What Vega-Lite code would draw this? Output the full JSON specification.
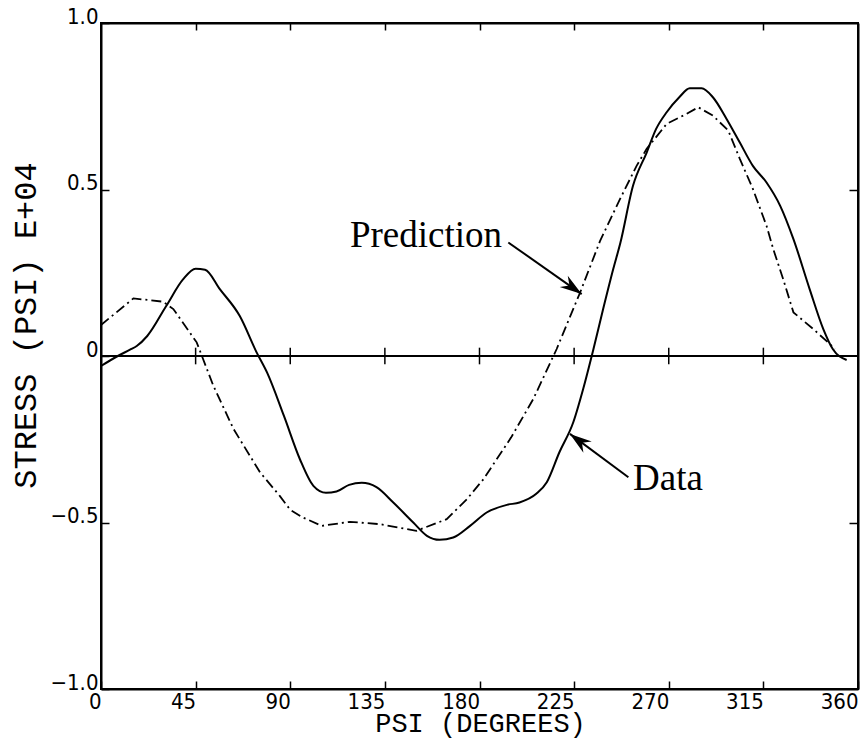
{
  "$schema": "https://vega.github.io/schema/vega-lite/v6.json",
  "width": 757,
  "height": 666,
  "autosize": {"type": "none"},
  "padding": {"left": 101, "top": 23, "right": 7, "bottom": 49},
  "background": "white",
  "config": {
    "view": {"stroke": "black", "strokeWidth": 2},
    "axis": {
      "domainColor": "black", "domainWidth": 2, "tickColor": "black", "tickWidth": 1.5,
      "labelColor": "black", "titleColor": "black", "grid": false,
      "labelFont": "Liberation Sans Narrow, DejaVu Sans Condensed, Liberation Sans",
      "titleFont": "Liberation Mono", "titleFontWeight": "normal"
    }
  },
  "datasets": {
    "curves": [
      {"series": "Data", "psi": 0, "stress": -0.03},
      {"series": "Data", "psi": 8, "stress": 0.0},
      {"series": "Data", "psi": 13.8, "stress": 0.019},
      {"series": "Data", "psi": 17, "stress": 0.03},
      {"series": "Data", "psi": 22, "stress": 0.06},
      {"series": "Data", "psi": 31, "stress": 0.15},
      {"series": "Data", "psi": 39, "stress": 0.23},
      {"series": "Data", "psi": 45, "stress": 0.262},
      {"series": "Data", "psi": 49.5, "stress": 0.259},
      {"series": "Data", "psi": 56.6, "stress": 0.2},
      {"series": "Data", "psi": 66, "stress": 0.12},
      {"series": "Data", "psi": 74, "stress": 0.011},
      {"series": "Data", "psi": 79, "stress": -0.05},
      {"series": "Data", "psi": 87, "stress": -0.18},
      {"series": "Data", "psi": 94.6, "stress": -0.31},
      {"series": "Data", "psi": 101, "stress": -0.39},
      {"series": "Data", "psi": 107, "stress": -0.411},
      {"series": "Data", "psi": 112, "stress": -0.407},
      {"series": "Data", "psi": 118, "stress": -0.387},
      {"series": "Data", "psi": 124, "stress": -0.381},
      {"series": "Data", "psi": 131, "stress": -0.394},
      {"series": "Data", "psi": 139, "stress": -0.44},
      {"series": "Data", "psi": 148.5, "stress": -0.5},
      {"series": "Data", "psi": 155, "stress": -0.54},
      {"series": "Data", "psi": 161, "stress": -0.552},
      {"series": "Data", "psi": 167.5, "stress": -0.545},
      {"series": "Data", "psi": 175.5, "stress": -0.51},
      {"series": "Data", "psi": 183.4, "stress": -0.47},
      {"series": "Data", "psi": 193, "stress": -0.447},
      {"series": "Data", "psi": 199, "stress": -0.44},
      {"series": "Data", "psi": 207, "stress": -0.414},
      {"series": "Data", "psi": 212, "stress": -0.379},
      {"series": "Data", "psi": 218, "stress": -0.289},
      {"series": "Data", "psi": 224.6, "stress": -0.199},
      {"series": "Data", "psi": 229.3, "stress": -0.099},
      {"series": "Data", "psi": 234, "stress": 0.016},
      {"series": "Data", "psi": 238.8, "stress": 0.141},
      {"series": "Data", "psi": 243.6, "stress": 0.261},
      {"series": "Data", "psi": 247, "stress": 0.34},
      {"series": "Data", "psi": 253, "stress": 0.511},
      {"series": "Data", "psi": 259.5, "stress": 0.611},
      {"series": "Data", "psi": 264, "stress": 0.682},
      {"series": "Data", "psi": 269, "stress": 0.732},
      {"series": "Data", "psi": 275, "stress": 0.777},
      {"series": "Data", "psi": 280, "stress": 0.804},
      {"series": "Data", "psi": 285.6, "stress": 0.804},
      {"series": "Data", "psi": 291, "stress": 0.777},
      {"series": "Data", "psi": 297.5, "stress": 0.712},
      {"series": "Data", "psi": 303.8, "stress": 0.641},
      {"series": "Data", "psi": 310, "stress": 0.571},
      {"series": "Data", "psi": 316.5, "stress": 0.521},
      {"series": "Data", "psi": 323, "stress": 0.451},
      {"series": "Data", "psi": 329.3, "stress": 0.351},
      {"series": "Data", "psi": 337, "stress": 0.201},
      {"series": "Data", "psi": 343.5, "stress": 0.081},
      {"series": "Data", "psi": 348, "stress": 0.021},
      {"series": "Data", "psi": 354.6, "stress": -0.012},
      {"series": "Prediction", "psi": 0, "stress": 0.093},
      {"series": "Prediction", "psi": 15.4, "stress": 0.173},
      {"series": "Prediction", "psi": 29.6, "stress": 0.163},
      {"series": "Prediction", "psi": 34.4, "stress": 0.141},
      {"series": "Prediction", "psi": 45.5, "stress": 0.041},
      {"series": "Prediction", "psi": 53.4, "stress": -0.089},
      {"series": "Prediction", "psi": 63, "stress": -0.219},
      {"series": "Prediction", "psi": 75.6, "stress": -0.349},
      {"series": "Prediction", "psi": 85, "stress": -0.42},
      {"series": "Prediction", "psi": 90, "stress": -0.462},
      {"series": "Prediction", "psi": 96, "stress": -0.485},
      {"series": "Prediction", "psi": 105, "stress": -0.51},
      {"series": "Prediction", "psi": 118.4, "stress": -0.498},
      {"series": "Prediction", "psi": 132.7, "stress": -0.505},
      {"series": "Prediction", "psi": 150, "stress": -0.525},
      {"series": "Prediction", "psi": 164.4, "stress": -0.49},
      {"series": "Prediction", "psi": 174, "stress": -0.43},
      {"series": "Prediction", "psi": 182, "stress": -0.369},
      {"series": "Prediction", "psi": 195, "stress": -0.245},
      {"series": "Prediction", "psi": 205.6, "stress": -0.129},
      {"series": "Prediction", "psi": 216.7, "stress": 0.021},
      {"series": "Prediction", "psi": 227.8, "stress": 0.19},
      {"series": "Prediction", "psi": 237.3, "stress": 0.345},
      {"series": "Prediction", "psi": 246.8, "stress": 0.471},
      {"series": "Prediction", "psi": 254.7, "stress": 0.571},
      {"series": "Prediction", "psi": 259.5, "stress": 0.622},
      {"series": "Prediction", "psi": 269, "stress": 0.697},
      {"series": "Prediction", "psi": 278.5, "stress": 0.727},
      {"series": "Prediction", "psi": 284, "stress": 0.747},
      {"series": "Prediction", "psi": 291, "stress": 0.722},
      {"series": "Prediction", "psi": 298.3, "stress": 0.677},
      {"series": "Prediction", "psi": 303.8, "stress": 0.592},
      {"series": "Prediction", "psi": 310, "stress": 0.502},
      {"series": "Prediction", "psi": 316.5, "stress": 0.391},
      {"series": "Prediction", "psi": 319.7, "stress": 0.321},
      {"series": "Prediction", "psi": 324.4, "stress": 0.231},
      {"series": "Prediction", "psi": 329.3, "stress": 0.131},
      {"series": "Prediction", "psi": 338.7, "stress": 0.081},
      {"series": "Prediction", "psi": 346.6, "stress": 0.036},
      {"series": "Prediction", "psi": 349, "stress": 0.021}
    ],
    "zeroline": [{"stress": 0}],
    "zeroticks": [{"psi": 45}, {"psi": 90}, {"psi": 135}, {"psi": 180}, {"psi": 225}, {"psi": 270}, {"psi": 315}],
    "arrows": [
      {"label": "Prediction", "x0": 193.7, "y0": 0.341, "x1": 228.6, "y1": 0.186, "angle": 35.2},
      {"label": "Data", "x0": 250.8, "y0": -0.364, "x1": 223.0, "y1": -0.234, "angle": 216.6}
    ],
    "labels": [
      {"text": "Prediction", "x": 118.4, "y": 0.327},
      {"text": "Data", "x": 253.0, "y": -0.401}
    ]
  },
  "resolve": {"axis": {"x": "independent", "y": "independent"}},
  "layer": [
    {
      "data": {"name": "curves"},
      "transform": [{"filter": "datum.series === 'Data'"}],
      "mark": {"type": "line", "color": "black", "strokeWidth": 2, "interpolate": "monotone"},
      "encoding": {
        "x": {
          "field": "psi", "type": "quantitative",
          "scale": {"domain": [0, 360], "nice": false, "zero": false},
          "axis": {
            "orient": "bottom", "values": [0, 45, 90, 135, 180, 225, 270, 315, 360],
            "tickSize": -8, "labelPadding": 10, "labelAlign": "right", "labelBaseline": "top",
            "labelFlush": false, "labelOverlap": false, "labelFontSize": 22, "labelAngle": 0,
            "title": "PSI (DEGREES)", "titleFontSize": 27, "titleX": 379, "titleY": 42,
            "titleAlign": "center", "titleBaseline": "alphabetic"
          }
        },
        "y": {
          "field": "stress", "type": "quantitative",
          "scale": {"domain": [-1, 1], "nice": false, "zero": false},
          "axis": {
            "orient": "left", "values": [-1, -0.5, 0, 0.5, 1],
            "labelExpr": "datum.value === 0 ? '0' : format(datum.value, '.1f')",
            "tickSize": -8, "labelPadding": 11, "labelAlign": "right", "labelBaseline": "alphabetic",
            "labelFlush": false, "labelOverlap": false, "labelFontSize": 22,
            "title": "STRESS (PSI) E+04", "titleFontSize": 32, "titleX": -66, "titleY": 302,
            "titleAngle": 270, "titleAlign": "center", "titleBaseline": "alphabetic"
          }
        }
      }
    },
    {
      "data": {"name": "curves"},
      "transform": [{"filter": "datum.series === 'Prediction'"}],
      "mark": {"type": "line", "color": "black", "strokeWidth": 1.8, "strokeDash": [10, 4, 2, 4]},
      "encoding": {
        "x": {
          "field": "psi", "type": "quantitative",
          "axis": {"orient": "top", "values": [45, 90, 135, 180, 225, 270, 315], "tickSize": -7, "labels": false, "title": null}
        },
        "y": {
          "field": "stress", "type": "quantitative",
          "axis": {"orient": "right", "values": [-0.5, 0.5], "tickSize": -9, "labels": false, "title": null}
        }
      }
    },
    {
      "data": {"name": "zeroline"},
      "mark": {"type": "rule", "color": "black", "strokeWidth": 2},
      "encoding": {"y": {"field": "stress", "type": "quantitative", "axis": null}}
    },
    {
      "data": {"name": "zeroticks"},
      "mark": {"type": "rule", "color": "black", "strokeWidth": 1.5},
      "encoding": {
        "x": {"field": "psi", "type": "quantitative", "axis": null},
        "y": {"datum": -0.025, "type": "quantitative", "axis": null},
        "y2": {"datum": 0.025}
      }
    },
    {
      "data": {"name": "arrows"},
      "mark": {"type": "rule", "color": "black", "strokeWidth": 2},
      "encoding": {
        "x": {"field": "x0", "type": "quantitative", "axis": null},
        "y": {"field": "y0", "type": "quantitative", "axis": null},
        "x2": {"field": "x1"},
        "y2": {"field": "y1"}
      }
    },
    {
      "data": {"name": "arrows"},
      "mark": {"type": "point", "shape": "M0,0 L-2.2,-0.7 L-1.5,0 L-2.2,0.7 Z", "filled": true, "color": "black", "size": 400, "opacity": 1},
      "encoding": {
        "x": {"field": "x1", "type": "quantitative", "axis": null},
        "y": {"field": "y1", "type": "quantitative", "axis": null},
        "angle": {"field": "angle", "type": "quantitative", "scale": null}
      }
    },
    {
      "data": {"name": "labels"},
      "mark": {"type": "text", "font": "Liberation Serif", "fontSize": 37, "align": "left", "baseline": "alphabetic", "color": "black"},
      "encoding": {
        "x": {"field": "x", "type": "quantitative", "axis": null},
        "y": {"field": "y", "type": "quantitative", "axis": null},
        "text": {"field": "text"}
      }
    }
  ]
}
